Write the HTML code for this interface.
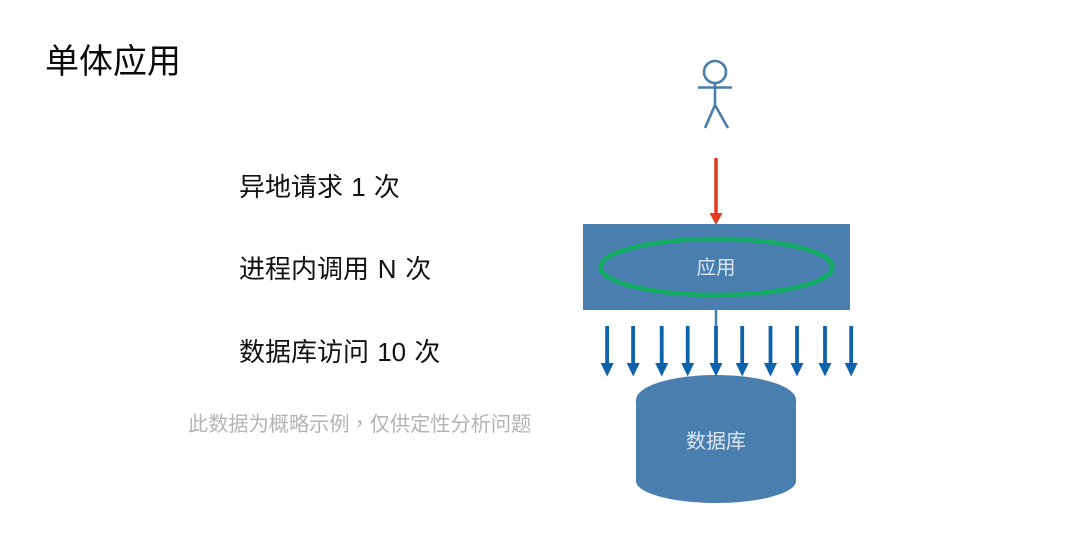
<!DOCTYPE html>
<html>
<head>
<meta charset="utf-8">
<style>
html,body{margin:0;padding:0;background:#fff;}
body{width:1080px;height:542px;overflow:hidden;}
svg{display:block;}
text{font-family:"Liberation Sans","Noto Sans CJK SC",sans-serif;}
</style>
</head>
<body>
<svg width="1080" height="542" viewBox="0 0 1080 542" xmlns="http://www.w3.org/2000/svg">
<rect width="1080" height="542" fill="#fff"/>
<text x="45" y="73" font-size="34" fill="#0a0a0a">单体应用</text>
<text x="239" y="196" font-size="26" fill="#111" word-spacing="1">异地请求 1 次</text>
<text x="239" y="278" font-size="26" fill="#111" word-spacing="1.5">进程内调用 N 次</text>
<text x="239" y="361" font-size="26" fill="#111" word-spacing="1">数据库访问 10 次</text>
<text x="188" y="431" font-size="20.2" fill="#b4b4b4">此数据为概略示例<tspan font-family="'Noto Sans CJK TC',sans-serif">，</tspan>仅供定性分析问题</text>

<g fill="none" stroke="#4a7dab" stroke-width="2.6">
<circle cx="715" cy="72" r="11"/>
<path d="M698 87.5H732M715 83V105M715 105L705 128M715 105L728 128"/>
</g>

<path d="M716 158V214" stroke="#e23a1e" stroke-width="3.5" fill="none"/>
<path d="M709.5 213H722.5L716 225Z" fill="#e23a1e"/>

<rect x="583" y="224" width="267" height="86" fill="#4a7eae"/>
<ellipse cx="716.5" cy="267" rx="116" ry="28" fill="none" stroke="#12ad62" stroke-width="4.5"/>
<text x="716" y="274" font-size="19.5" fill="#dbe8f4" text-anchor="middle">应用</text>

<path d="M716 310V330" stroke="#4a7eae" stroke-width="2.6"/>

<path d="M636 400C636 386 672 375 716 375C760 375 796 386 796 400V481C796 493 760 503 716 503C672 503 636 493 636 481Z" fill="#4a7eae"/>
<path d="M636 400C640 412 675 421 716 421C757 421 792 412 796 400" fill="none" stroke="#497ba8" stroke-width="1"/>
<text x="716" y="448" font-size="20" fill="#dbe8f4" text-anchor="middle">数据库</text>

<g fill="#0d62ab" stroke="none">
<path d="M605.2 326H609V363H613.7L607.2 376.5L600.7 363H605.2Z"/>
<path d="M631.2 326H635V363H639.7L633.2 376.5L626.7 363H631.2Z"/>
<path d="M659.8 326H663.6V363H668.2L661.7 376.5L655.2 363H659.8Z"/>
<path d="M685.8 326H689.6V363H694.2L687.7 376.5L681.2 363H685.8Z"/>
<path d="M714.1 326H717.9V363H722.5L716 376.5L709.5 363H714.1Z"/>
<path d="M740.3 326H744.1V363H748.7L742.2 376.5L735.7 363H740.3Z"/>
<path d="M768.6 326H772.4V363H777L770.5 376.5L764 363H768.6Z"/>
<path d="M795.1 326H798.9V363H803.5L797 376.5L790.5 363H795.1Z"/>
<path d="M823.1 326H826.9V363H831.5L825 376.5L818.5 363H823.1Z"/>
<path d="M849.3 326H853.1V363H857.7L851.2 376.5L844.7 363H849.3Z"/>
</g>
</svg>
</body>
</html>
